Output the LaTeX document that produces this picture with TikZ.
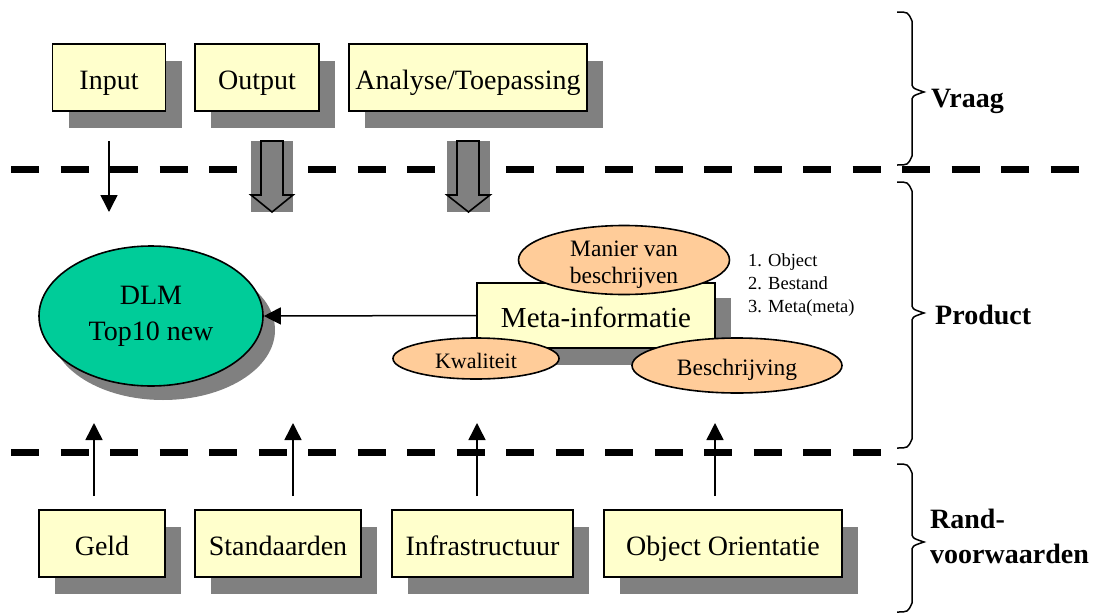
\documentclass[tikz,border=0pt]{standalone}
\usepackage{fontspec}
\setmainfont{Liberation Serif}
\usetikzlibrary{shapes.geometric,shadows,arrows.meta}
\definecolor{boxfill}{RGB}{255,255,204}
\definecolor{orangefill}{RGB}{255,204,153}
\definecolor{dlmfill}{RGB}{0,204,153}
\definecolor{shadowgray}{RGB}{128,128,128}
\newcommand\sidebrace[3]{\draw[bracepath] (897,#1) .. controls (908,#1) .. (912,{#1+9}) -- (912,{#2-10}) .. controls (912,{#2-4}) .. (924,#2) .. controls (912,{#2+4}) .. (912,{#2+10}) -- (912,{#3-9}) .. controls (908,#3) .. (897,#3);}
\begin{document}
\begin{tikzpicture}[x=1pt,y=-1pt,
  ybox/.style={draw=black, line width=1.6pt, fill=boxfill, minimum height=67pt, inner sep=0pt,
     text height=23pt, text depth=0pt,
     font=\fontsize{28}{30}\selectfont,
     drop shadow={opacity=1, fill=shadowgray, draw=none, shadow xshift=16pt, shadow yshift=-17pt}},
  oval/.style={ellipse, draw=black, line width=1.6pt, fill=orangefill, inner sep=0pt, align=center},
  dashline/.style={line width=7pt, dash pattern=on 28pt off 21.5pt},
  thinarrow/.style={line width=1.5pt, -{Triangle[width=17pt,length=17pt]}},
  hollow/.style={draw=black, line width=1.6pt, fill=shadowgray},
  bracepath/.style={line width=1.5pt},
  sidelabel/.style={font=\bfseries\fontsize{28}{33}\selectfont, anchor=base west, inner sep=0pt},
  listtext/.style={font=\fontsize{18.5}{22}\selectfont, anchor=base west, inner sep=0pt}
]
\useasboundingbox (0,0) rectangle (1099,613);

% dashed separators
\draw[dashline] (11,169) -- (1080,169);
\draw[dashline] (11,452) -- (881,452);

% top boxes
\node[ybox, minimum width=113pt] (input) at (109,77.5) {Input};
\node[ybox, minimum width=124pt] (output) at (257,77.5) {Output};
\node[ybox, minimum width=238pt] (analyse) at (468,77.5) {Analyse/Toepassing};

% input arrow
\coordinate (inA) at (109,141);
\coordinate (inB) at (109,212);
\draw[thinarrow] (inA) -- (inB);

% hollow arrows
\fill[shadowgray] (251,141) rectangle (293,212);
\draw[hollow] (261,141) -- (283,141) -- (283,195) -- (293,195) -- (272,212) -- (251,195) -- (261,195) -- cycle;
\fill[shadowgray] (447,141) rectangle (490,212);
\draw[hollow] (457,141) -- (479,141) -- (479,195) -- (490,195) -- (468.5,212) -- (447,195) -- (457,195) -- cycle;

% DLM
\node[ellipse, draw=black, line width=1.6pt, fill=dlmfill, minimum width=224pt, minimum height=140pt,
  inner sep=0pt, align=center, font=\fontsize{28}{36}\selectfont,
  drop shadow={opacity=1, fill=shadowgray, draw=none, shadow xshift=12pt, shadow yshift=-14pt}] (dlm) at (151,316) {DLM\\Top10 new};

% Meta-informatie
\node[ybox, minimum width=238pt, minimum height=65pt, font=\fontsize{29}{31}\selectfont,
  drop shadow={opacity=1, fill=shadowgray, draw=none, shadow xshift=16pt, shadow yshift=-15pt}] (meta) at (596,315.5) {Meta-informatie};
\node[oval, minimum width=211pt, minimum height=69pt] (manier) at (624,260) {};
\node[align=center, inner sep=0pt, font=\fontsize{23.5}{27}\selectfont] (maniertext) at ([yshift=-5pt]manier.center) {Manier van\\beschrijven};
\node[oval, minimum width=166pt, minimum height=41pt, text height=19pt, text depth=0pt, font=\fontsize{22}{24}\selectfont] (kwal) at (476,358.5) {Kwaliteit};
\node[oval, minimum width=210pt, minimum height=55pt, text height=19pt, text depth=0pt, font=\fontsize{23.5}{26}\selectfont] (beschr) at (737,365.5) {Beschrijving};
\node[listtext] (list1) at (748,266) {1. Object};
\node[listtext] (list2) at (748,289) {2. Bestand};
\node[listtext] (list3) at (748,312) {3. Meta(meta)};

\draw[thinarrow] (meta.west) -- (dlm.east);

% bottom boxes
\node[ybox, minimum width=126pt] (geld) at (102,543.5) {Geld};
\node[ybox, minimum width=166pt] (stand) at (278,543.5) {Standaarden};
\node[ybox, minimum width=181pt] (infra) at (482.5,543.5) {Infrastructuur};
\node[ybox, minimum width=238pt] (oo) at (723,543.5) {Object Orientatie};

% up arrows
\foreach \x/\n in {94/a,293/b,477/c,715/d}{
  \coordinate (up\n1) at (\x,496);
  \coordinate (up\n2) at (\x,423);
  \draw[thinarrow] (up\n1) -- (up\n2);
}

% braces
\sidebrace{12}{92}{165}
\sidebrace{182}{313}{448}
\sidebrace{464}{542}{612}
\node[sidelabel] (vraag) at (931,107) {Vraag};
\node[sidelabel] (product) at (935,324) {Product};
\node[sidelabel] (rand1) at (930,528) {Rand-};
\node[sidelabel] (rand2) at (930,563) {voorwaarden};
\end{tikzpicture}
\end{document}
